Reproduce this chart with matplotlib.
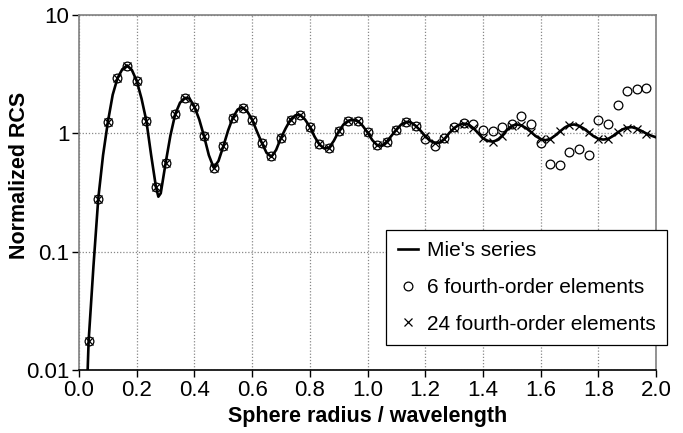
import matplotlib
matplotlib.use("Agg")
import matplotlib.pyplot as plt
from matplotlib.ticker import FixedLocator, FixedFormatter

plt.rcParams["font.family"] = ["Liberation Sans", "DejaVu Sans"]

# Mie's series curve
mie_x = [0.0167, 0.0333, 0.05, 0.0667, 0.0833, 0.1, 0.1167, 0.1333, 0.15, 0.1667,
         0.1833, 0.2, 0.2167, 0.2333, 0.25, 0.2667, 0.275, 0.2833, 0.3, 0.3167,
         0.3333, 0.35, 0.3667, 0.3833, 0.4, 0.4167, 0.4333, 0.45, 0.4667, 0.4833,
         0.5, 0.5167, 0.5333, 0.55, 0.5667, 0.5833, 0.6, 0.6167, 0.6333, 0.65,
         0.6667, 0.6833, 0.7, 0.7167, 0.7333, 0.75, 0.7667, 0.7833, 0.8, 0.8167,
         0.8333, 0.85, 0.8667, 0.8833, 0.9, 0.9167, 0.9333, 0.95, 0.9667, 0.9833,
         1.0, 1.0167, 1.0333, 1.05, 1.0667, 1.0833, 1.1, 1.1167, 1.1333, 1.15,
         1.1667, 1.1833, 1.2, 1.2167, 1.2333, 1.25, 1.2667, 1.2833, 1.3, 1.3167,
         1.3333, 1.35, 1.3667, 1.3833, 1.4, 1.4167, 1.4333, 1.45, 1.4667, 1.4833,
         1.5, 1.5167, 1.5333, 1.55, 1.5667, 1.5833, 1.6, 1.6167, 1.6333, 1.65,
         1.6667, 1.6833, 1.7, 1.7167, 1.7333, 1.75, 1.7667, 1.7833, 1.8, 1.8167,
         1.8333, 1.85, 1.8667, 1.8833, 1.9, 1.9167, 1.9333, 1.95, 1.9667, 1.9833,
         2.0]
mie_y = [0.0011, 0.0176, 0.075, 0.28, 0.65, 1.24, 2.1, 2.9, 3.45, 3.72,
         3.4, 2.75, 1.95, 1.27, 0.65, 0.35, 0.29, 0.31, 0.555, 0.95,
         1.44, 1.8, 1.98, 1.95, 1.67, 1.3, 0.94, 0.65, 0.51, 0.58,
         0.77, 1.05, 1.35, 1.58, 1.64, 1.52, 1.30, 1.03, 0.83, 0.68,
         0.63, 0.72, 0.91, 1.1, 1.30, 1.41, 1.42, 1.3, 1.13, 0.93,
         0.80, 0.74, 0.75, 0.86, 1.03, 1.18, 1.27, 1.29, 1.26, 1.15,
         1.01, 0.87, 0.79, 0.78, 0.845, 0.95, 1.07, 1.18, 1.24, 1.23,
         1.15, 1.05, 0.94, 0.86, 0.825, 0.83, 0.89, 1.0, 1.1, 1.17,
         1.2, 1.18, 1.1, 1.0, 0.9, 0.86, 0.845, 0.87, 0.95, 1.06,
         1.15, 1.18, 1.16, 1.10, 1.02, 0.94, 0.89, 0.87, 0.89, 0.95,
         1.03, 1.11, 1.17, 1.18, 1.15, 1.09, 1.01, 0.94, 0.895, 0.88,
         0.89, 0.94, 1.01, 1.07, 1.11, 1.12, 1.09, 1.04, 0.99, 0.95,
         0.92]

# markers at radius = k/30
mark_x = [k / 30 for k in range(1, 60)]
six_y = [0.0176, 0.28, 1.24, 2.9, 3.68, 2.75, 1.27, 0.352, 0.555, 1.44,
         1.96, 1.67, 0.94, 0.51, 0.77, 1.35, 1.62, 1.30, 0.83, 0.64,
         0.91, 1.30, 1.42, 1.13, 0.80, 0.74, 1.03, 1.27, 1.27, 1.01,
         0.79, 0.845, 1.07, 1.25, 1.15, 0.885, 0.77, 0.90, 1.13, 1.22,
         1.19, 1.06, 1.03, 1.13, 1.18, 1.39, 1.18, 0.83, 0.545, 0.54,
         0.695, 0.73, 0.65, 1.30, 1.19, 1.72, 2.26, 2.34, 2.38]
tf_y = [0.0176, 0.28, 1.24, 2.9, 3.68, 2.75, 1.27, 0.352, 0.555, 1.44,
        1.96, 1.67, 0.94, 0.51, 0.77, 1.35, 1.62, 1.30, 0.83, 0.64,
        0.91, 1.30, 1.42, 1.13, 0.80, 0.74, 1.03, 1.27, 1.27, 1.01,
        0.79, 0.845, 1.07, 1.25, 1.15, 0.94, 0.825, 0.89, 1.1, 1.2,
        1.1, 0.9, 0.845, 0.95, 1.15, 1.16, 1.02, 0.89, 0.89, 1.03,
        1.17, 1.15, 1.01, 0.895, 0.89, 1.01, 1.11, 1.09, 0.99]

yticks = [0.01, 0.1, 1, 10]
ylabels = ["0.01", "0.1", "1", "10"]

fig = plt.figure(figsize=(6.83, 4.33), dpi=100)
ax = fig.add_axes([0.1157, 0.1455, 0.8448, 0.821])

ax.plot(mie_x, mie_y, color="black", lw=1.9, label="Mie's series", zorder=3)
ax.plot(mark_x, six_y, ls="none", marker="o", ms=6.3, mfc="none", mec="black",
        mew=0.9, label="6 fourth-order elements", zorder=4)
ax.plot(mark_x, tf_y, ls="none", marker="x", ms=5.5, mec="black", mew=0.9,
        label="24 fourth-order elements", zorder=4)

ax.set_yscale("log")
ax.set_xlim(0, 2.0)
ax.set_ylim(0.01, 10)
ax.set_xticks([i * 0.2 for i in range(11)])
ax.set_xticklabels(["%.1f" % (i * 0.2) for i in range(11)])
ax.yaxis.set_major_locator(FixedLocator(yticks))
ax.yaxis.set_major_formatter(FixedFormatter(ylabels))
ax.yaxis.set_minor_locator(FixedLocator([]))
ax.tick_params(labelsize=16, direction="out", length=5, width=1, colors="black", pad=2)
ax.grid(True, ls=(0, (1, 1.5)), color="#888888", lw=0.9)

for s in ["top", "right", "left"]:
    ax.spines[s].set_color("#808080")
ax.spines["bottom"].set_color("black")
for s in ax.spines.values():
    s.set_linewidth(1.2)

ax.set_xlabel("Sphere radius / wavelength", fontsize=15.5, fontweight="bold")
ax.xaxis.set_label_coords(0.5, -0.1)
ax.set_ylabel("Normalized RCS", fontsize=15.5, fontweight="bold")
ax.yaxis.set_label_coords(-0.085, 0.546)

leg = ax.legend(loc="lower right", bbox_to_anchor=(1.019, 0.07), borderaxespad=0,
                fontsize=15, frameon=True, fancybox=False, edgecolor="black",
                framealpha=1, handlelength=1.0, handletextpad=0.4,
                labelspacing=0.85, borderpad=0.55)
leg.get_frame().set_linewidth(0.9)

fig.savefig("out.png", dpi=100)
